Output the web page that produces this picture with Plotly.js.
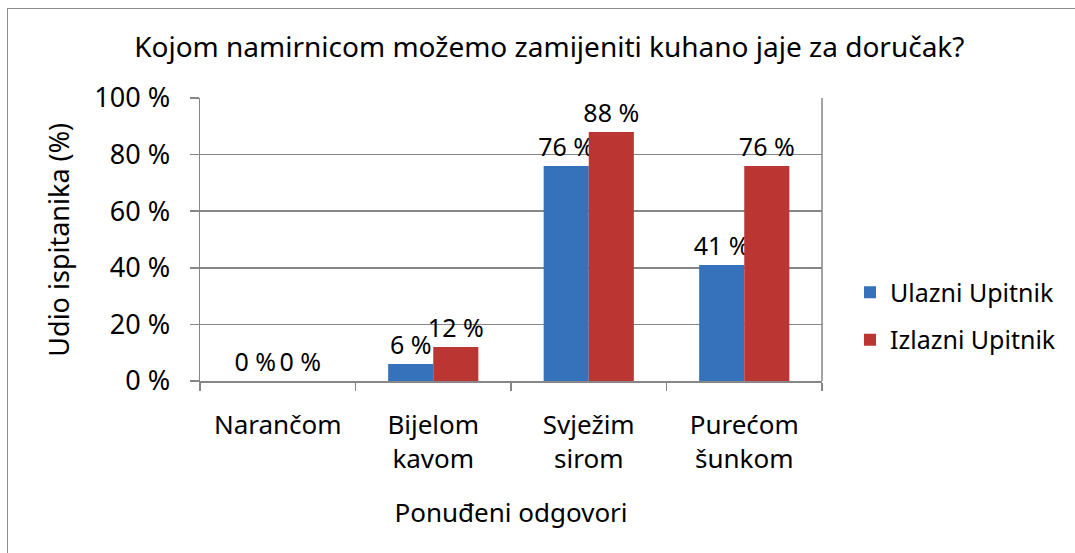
<!DOCTYPE html>
<html>
<head>
<meta charset="utf-8">
<script src="https://cdn.plot.ly/plotly-3.0.1.min.js"></script>
<style>
html,body{margin:0;padding:0;background:#fff;overflow:hidden;}
#wrap{position:relative;width:1075px;height:553px;overflow:hidden;}
#chart{position:absolute;left:0;top:0;width:1075px;height:553px;}
#frame{position:absolute;left:7px;top:8px;width:1100px;height:600px;border:1.5px solid #8c8c8c;pointer-events:none;}
</style>
</head>
<body>
<div id="wrap"><div id="chart"></div><div id="frame"></div></div>
<script>
const categories = ["Narančom", "Bijelom<br>kavom", "Svježim<br>sirom", "Purećom<br>šunkom"];
const ulazni = [0, 6, 76, 41];
const izlazni = [0, 12, 88, 76];
const seriesNames = ["Ulazni Upitnik", "Izlazni Upitnik"];
const yTickVals = [0, 20, 40, 60, 80, 100];
const yTickText = ["0 %", "20 %", "40 %", "60 %", "80 %", "100 %"];
const yTitle = "Udio ispitanika (%)";

const FONT = "Noto Sans, DejaVu Sans, sans-serif";
const fmt = v => v + " %";

const traces = [
  {type: "bar", name: seriesNames[0], x: categories, y: ulazni,
   marker: {color: "#3671bb"}, text: ulazni.map(fmt), textposition: "outside",
   constraintext: "none",
   cliponaxis: false, textfont: {size: 25, color: "#000", family: FONT},
   legendgroup: "a"},
  {type: "bar", name: seriesNames[1], x: categories, y: izlazni,
   marker: {color: "#bb3533"}, text: izlazni.map(fmt), textposition: "outside",
   constraintext: "none",
   cliponaxis: false, textfont: {size: 25, color: "#000", family: FONT},
   legendgroup: "b"}
];

const layout = {
  width: 1075, height: 553,
  margin: {l: 200, r: 253, t: 98, b: 172},
  paper_bgcolor: "#fff", plot_bgcolor: "#fff",
  font: {family: FONT, color: "#000", size: 25},
  title: {text: "Kojom namirnicom možemo zamijeniti kuhano jaje za doručak?",
          x: 0.511, xanchor: "center", y: 0.915, yanchor: "middle",
          font: {size: 28, family: FONT, color: "#000"}},
  barmode: "group", bargap: 0.42, bargroupgap: 0,
  xaxis: {
    showline: true, linecolor: "#868686", linewidth: 1.5,
    ticks: "outside", tickson: "boundaries", ticklen: 8, tickcolor: "#868686", tickwidth: 1.5,
    tickfont: {size: 26, family: FONT}, ticklabelstandoff: 20,
    title: {text: "Ponuđeni odgovori", font: {size: 26, family: FONT}, standoff: 29},
    showgrid: false, fixedrange: true
  },
  yaxis: {
    range: [0, 100], tickvals: yTickVals, ticktext: yTickText,
    showline: true, linecolor: "#868686", linewidth: 1.5,
    ticks: "outside", ticklen: 9, tickcolor: "#868686", tickwidth: 1.5,
    showgrid: true, gridcolor: "#868686", gridwidth: 1.5,
    zeroline: false,
    tickfont: {size: 27, family: FONT}, ticklabelstandoff: 14,
    fixedrange: true
  },
  annotations: [{text: yTitle, xref: "paper", yref: "paper", x: -0.228, y: 0.5,
                 xanchor: "center", yanchor: "middle", textangle: -90, showarrow: false,
                 font: {size: 27, family: FONT, color: "#000"}}],
  shapes: [{type: "line", xref: "paper", yref: "paper", x0: 1, x1: 1, y0: 0, y1: 1,
            line: {color: "#868686", width: 1.5}, layer: "below"}],
  legend: {x: 1.045, xanchor: "left", y: 0.23, yanchor: "middle",
           font: {size: 25, family: FONT}, traceorder: "grouped", tracegroupgap: 12,
           itemwidth: 30, bgcolor: "rgba(0,0,0,0)"},
  showlegend: true
};

Plotly.newPlot("chart", traces, layout, {staticPlot: true, displayModeBar: false});
</script>
</body>
</html>
